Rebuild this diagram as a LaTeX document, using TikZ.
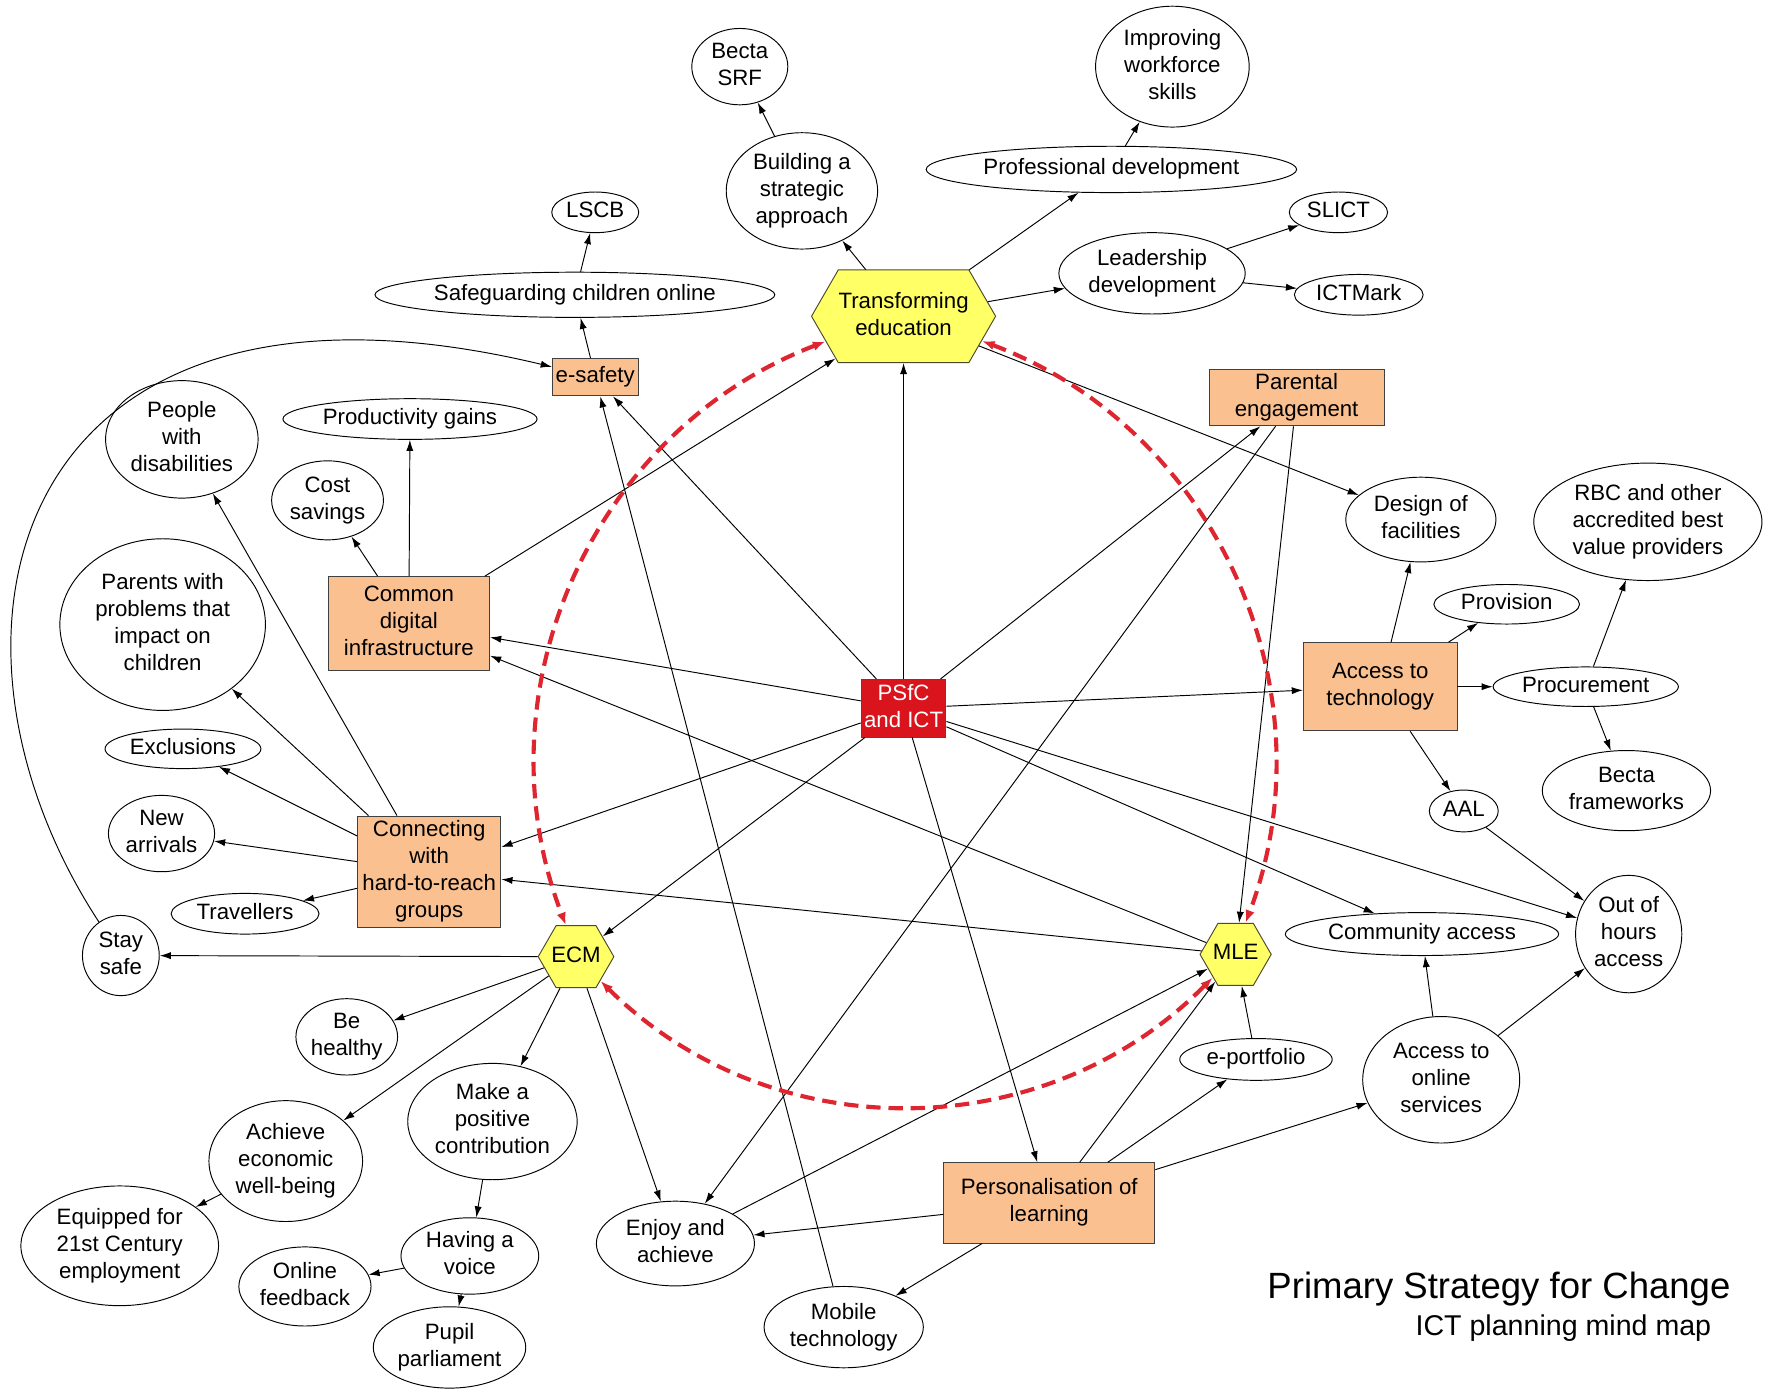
\documentclass[tikz,border=0pt]{standalone}
\usepackage{fontspec}
\setmainfont{Liberation Sans}
\usetikzlibrary{shapes.geometric,shapes.symbols,arrows.meta}

\definecolor{peach}{RGB}{250,192,143}
\definecolor{hexyellow}{RGB}{255,255,102}
\definecolor{corered}{RGB}{217,20,28}
\definecolor{ringred}{RGB}{222,38,48}

\newcommand{\lbl}[1]{\makebox[0pt]{\begin{tabular}{@{}c@{}}#1\end{tabular}}}

\tikzstyle{idea}=[draw, ellipse, fill=white, inner sep=0pt, line width=0.6pt]
\tikzstyle{topic}=[draw=black!75, fill=peach, inner sep=0pt, line width=0.6pt]
\tikzstyle{hub}=[draw=black!60!olive, fill=hexyellow, signal, signal to=east and west, signal pointer angle=120, inner sep=0pt, line width=0.6pt]
\tikzstyle{core}=[draw=black!70, fill=corered, text=white, inner sep=0pt, line width=0.6pt]
\tikzstyle{arr}=[-{Latex[length=7pt,width=4.5pt]}, line width=0.6pt]
\tikzstyle{redring}=[{Latex[length=8pt,width=6pt]}-{Latex[length=8pt,width=6pt]}, line width=2.6pt, dash pattern=on 9pt off 5pt, draw=ringred]
\tikzset{sz/.style 2 args={minimum width=#1*0.025cm, minimum height=#2*0.025cm}}

\begin{document}
\begin{tikzpicture}[x=0.025cm, y=-0.025cm, font=\fontsize{14}{17}\selectfont]

\useasboundingbox (0,0) rectangle (1568,1229);

\node[core, sz={75}{51}] (psfc) at (800,627) {\lbl{PSfC\\and ICT}};

\node[hub, sz={163}{82}] (te) at (800,280) {\lbl{Transforming\\education}};
\node[hub, sz={67}{55}] (ecm) at (510,847) {\lbl{ECM}};
\node[hub, sz={63}{55}] (mle) at (1094,845) {\lbl{MLE}};

\node[topic, sz={76}{33}] (esafe) at (527,334) {\lbl{e-safety}};
\node[topic, sz={155}{50}] (parent) at (1148,352) {\lbl{Parental\\engagement}};
\node[topic, sz={143}{83}] (cdi) at (362,552) {\lbl{Common\\digital\\infrastructure}};
\node[topic, sz={136}{78}] (att) at (1222,608) {\lbl{Access to\\technology}};
\node[topic, sz={127}{99}] (chr) at (380,772) {\lbl{Connecting\\with\\hard-to-reach\\groups}};
\node[topic, sz={187}{71}] (pol) at (929,1065) {\lbl{Personalisation of\\learning}};

\node[idea, sz={85}{67}] (srf) at (655,59) {\lbl{Becta\\SRF}};
\node[idea, sz={136}{107}] (iws) at (1038,59) {\lbl{Improving\\workforce\\skills}};
\node[idea, sz={134}{103}] (bsa) at (710,169) {\lbl{Building a\\strategic\\approach}};
\node[idea, sz={328}{41}] (pd) at (984,150) {\lbl{Professional development}};
\node[idea, sz={77}{36}] (lscb) at (527,188) {\lbl{LSCB}};
\node[idea, sz={87}{36}] (slict) at (1185,188) {\lbl{SLICT}};
\node[idea, sz={165}{72}] (ld) at (1020,242) {\lbl{Leadership\\development}};
\node[idea, sz={114}{36}] (ictm) at (1203,261) {\lbl{ICTMark}};
\node[idea, sz={354}{40}] (sco) at (509,261) {\lbl{Safeguarding children online}};

\node[idea, sz={135}{104}] (pwd) at (161,389) {\lbl{People\\with\\disabilities}};
\node[idea, sz={225}{36}] (pg) at (363,371) {\lbl{Productivity gains}};
\node[idea, sz={99}{70}] (cs) at (290,443) {\lbl{Cost\\savings}};
\node[idea, sz={182}{152}] (pwp) at (144,553) {\lbl{Parents with\\problems that\\impact on\\children}};
\node[idea, sz={138}{35}] (excl) at (162,663) {\lbl{Exclusions}};
\node[idea, sz={94}{65}] (na) at (143,738) {\lbl{New\\arrivals}};
\node[idea, sz={131}{36}] (trav) at (217,809) {\lbl{Travellers}};
\node[idea, sz={68}{71}] (ss) at (107,846) {\lbl{Stay\\safe}};

\node[idea, sz={90}{62}] (bh) at (307,918) {\lbl{Be\\healthy}};
\node[idea, sz={136}{107}] (aew) at (253,1028) {\lbl{Achieve\\economic\\well-being}};
\node[idea, sz={150}{103}] (mpc) at (436,993) {\lbl{Make a\\positive\\contribution}};
\node[idea, sz={175}{106}] (eq) at (106,1103) {\lbl{Equipped for\\21st Century\\employment}};
\node[idea, sz={122}{63}] (hav) at (416,1112) {\lbl{Having a\\voice}};
\node[idea, sz={117}{70}] (of) at (270,1139) {\lbl{Online\\feedback}};
\node[idea, sz={135}{72}] (pp) at (398,1193) {\lbl{Pupil\\parliament}};
\node[idea, sz={140}{75}] (ea) at (598,1101) {\lbl{Enjoy and\\achieve}};
\node[idea, sz={141}{72}] (mt) at (747,1175) {\lbl{Mobile\\technology}};

\node[idea, sz={135}{37}] (ep) at (1112,938) {\lbl{e-portfolio}};
\node[idea, sz={139}{112}] (aos) at (1276,956) {\lbl{Access to\\online\\services}};
\node[idea, sz={242}{38}] (ca) at (1259,827) {\lbl{Community access}};
\node[idea, sz={94}{104}] (ooh) at (1442,827) {\lbl{Out of\\hours\\access}};
\node[idea, sz={61}{37}] (aal) at (1296,718) {\lbl{AAL}};
\node[idea, sz={149}{71}] (bf) at (1440,700) {\lbl{Becta\\frameworks}};
\node[idea, sz={164}{35}] (proc) at (1404,608) {\lbl{Procurement}};
\node[idea, sz={129}{35}] (prov) at (1334,535) {\lbl{Provision}};
\node[idea, sz={202}{104}] (rbc) at (1459,462) {\lbl{RBC and other\\accredited best\\value providers}};
\node[idea, sz={133}{75}] (dof) at (1258,460) {\lbl{Design of\\facilities}};

\node[anchor=east, font=\fontsize{23}{27}\selectfont] (ttl) at (1537,1141) {Primary Strategy for Change};
\node[anchor=east, font=\fontsize{18}{21}\selectfont] (sub) at (1520,1176) {ICT planning mind map};

\draw[arr] (psfc) -- (te);
\draw[arr] (psfc) -- (esafe);
\draw[arr] (psfc) -- (cdi);
\draw[arr] (psfc) -- (parent);
\draw[arr] (psfc) -- (att);
\draw[arr] (psfc) -- (chr);
\draw[arr] (psfc) -- (ecm);
\draw[arr] (psfc) -- (pol);
\draw[arr] (psfc) -- (ca);
\draw[arr] (psfc) -- (ooh);

\draw[arr] (te) -- (bsa);
\draw[arr] (te) -- (pd);
\draw[arr] (te) -- (ld);
\draw[arr] (te) -- (dof);
\draw[arr] (bsa) -- (srf);
\draw[arr] (pd) -- (iws);
\draw[arr] (ld) -- (slict);
\draw[arr] (ld) -- (ictm);

\draw[arr] (esafe) -- (sco);
\draw[arr] (sco) -- (lscb);
\draw[arr] (mt) -- (esafe);
\draw[arr] (ss) .. controls (-80,560) and (10,210) .. (esafe);

\draw[arr] (cdi) -- (te);
\draw[arr] (cdi) -- (pg);
\draw[arr] (cdi) -- (cs);
\draw[arr] (mle) -- (cdi);

\draw[arr] (chr) -- (pwd);
\draw[arr] (chr) -- (pwp);
\draw[arr] (chr) -- (excl);
\draw[arr] (chr) -- (na);
\draw[arr] (chr) -- (trav);
\draw[arr] (mle) -- (chr);

\draw[arr] (ecm) -- (ss);
\draw[arr] (ecm) -- (bh);
\draw[arr] (ecm) -- (aew);
\draw[arr] (ecm) -- (mpc);
\draw[arr] (ecm) -- (ea);
\draw[arr] (aew) -- (eq);
\draw[arr] (mpc) -- (hav);
\draw[arr] (hav) -- (of);
\draw[arr] (hav) -- (pp);

\draw[arr] (parent) -- (ea);
\draw[arr] (parent) -- (mle);
\draw[arr] (ea) -- (mle);

\draw[arr] (pol) -- (ea);
\draw[arr] (pol) -- (mt);
\draw[arr] (pol) -- (mle);
\draw[arr] (pol) -- (ep);
\draw[arr] (pol) -- (aos);
\draw[arr] (ep) -- (mle);

\draw[arr] (att) -- (dof);
\draw[arr] (att) -- (prov);
\draw[arr] (att) -- (proc);
\draw[arr] (att) -- (aal);
\draw[arr] (proc) -- (rbc);
\draw[arr] (proc) -- (bf);
\draw[arr] (aal) -- (ooh);
\draw[arr] (aos) -- (ca);
\draw[arr] (aos) -- (ooh);

\draw[redring] (te) to[bend right=45] (ecm);
\draw[redring] (te) to[bend left=45] (mle);
\draw[redring] (ecm) to[bend right=45] (mle);

\end{tikzpicture}
\end{document}
